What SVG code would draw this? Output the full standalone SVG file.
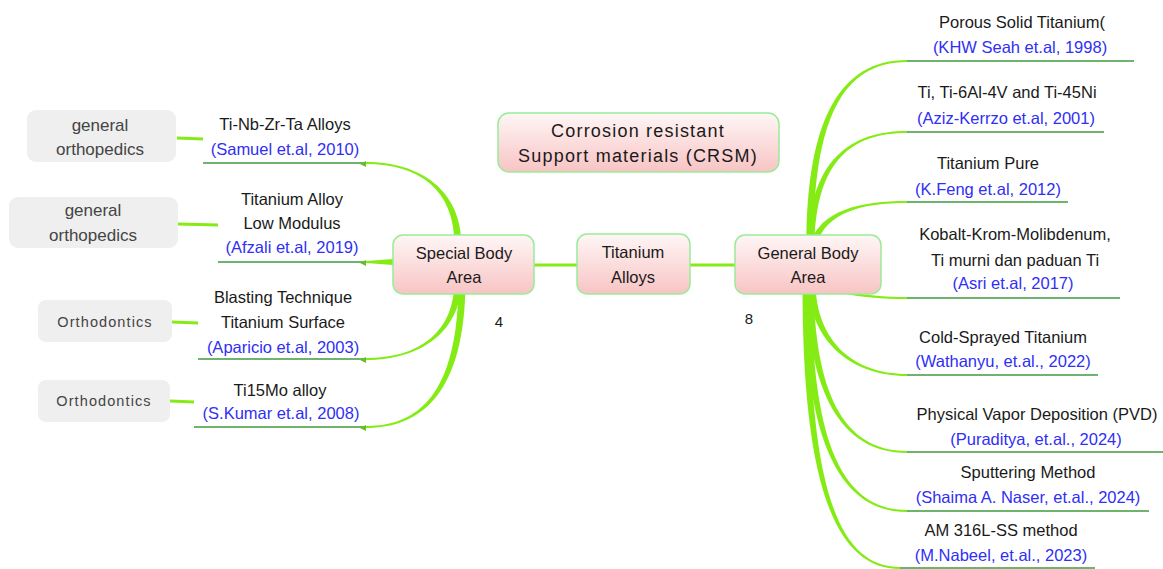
<svg xmlns="http://www.w3.org/2000/svg" width="1163" height="569" viewBox="0 0 1163 569">
<defs>
<linearGradient id="pk" x1="0" y1="0" x2="0" y2="1">
<stop offset="0" stop-color="#fff6f6"/>
<stop offset="1" stop-color="#f8c4c4"/>
</linearGradient>
</defs>
<style>
text{font-family:"Liberation Sans",Arial,sans-serif;font-size:16.5px;fill:#1a1a1a;text-anchor:middle}
.b{fill:#2f2ff5}
.g{fill:#444;font-size:17px}
.sm{font-size:14.5px;letter-spacing:1.1px}
.node{fill:url(#pk);stroke:#98ec98;stroke-width:1.5}
.gray{fill:#efefef}
.br{fill:#84ec14}
.ul{stroke:#3f9a3f;stroke-width:1.5;fill:none}
.gl{stroke:#84ec14;stroke-width:3;fill:none}
.crsm{font-size:18px;letter-spacing:1.2px}
.num{font-size:15px}
</style>
<g id="connectors">
<path class="br" d="M461.5,245 C461.5,190 420,162 366,162 L366,164 C420,164 454.5,190 454.5,245 Z"/>
<path class="br" d="M400,258.5 L366,261 L366,263 L400,265.5 Z"/>
<path class="br" d="M461.5,280 C461.5,332 420,360 366,360 L366,358 C420,358 454.5,332 454.5,280 Z"/>
<path class="br" d="M465.5,280 C465.5,395 420,428 366,428 L366,426 C418,426 458.5,395 458.5,280 Z"/>
<line class="gl" x1="534" y1="265" x2="577" y2="265"/>
<line class="gl" x1="690" y1="265" x2="735" y2="265"/>
<path class="br" d="M806.5,245 C806.5,120 840,60 907,60 L907,62 C842,62 813.5,120 813.5,245 Z"/>
<path class="br" d="M807.5,245 C810,160 850,131 907,131 L907,133 C852,133 816,160 814.5,245 Z"/>
<path class="br" d="M809.5,245 C820,210 860,201 907,201 L907,203 C862,203 826,212 816.5,245 Z"/>
<path class="br" d="M804.5,270 C812,292 860,299 907,299 L907,297 C862,297 822,290 811.5,270 Z"/>
<path class="br" d="M808.5,285 C810,340 850,376 907,376 L907,374 C852,374 817,340 815.5,285 Z"/>
<path class="br" d="M806.5,285 C808,390 840,453 907,453 L907,451 C842,451 815,390 813.5,285 Z"/>
<path class="br" d="M804.5,285 C804.5,430 835,512 907,512 L907,510 C837,510 811.5,430 811.5,285 Z"/>
<path class="br" d="M802.5,285 C802.5,470 830,569 900,569 L900,567 C832,567 809.5,470 809.5,285 Z"/>
<line class="ul" x1="203" y1="163" x2="366" y2="163"/>
<line class="ul" x1="218" y1="262" x2="366" y2="262"/>
<line class="ul" x1="198" y1="359" x2="366" y2="359"/>
<line class="ul" x1="194" y1="427" x2="366" y2="427"/>
<polygon points="360,164 366,161 366,167" fill="#5fc02a"/>
<polygon points="360,263 366,260 366,266" fill="#5fc02a"/>
<polygon points="360,360 366,357 366,363" fill="#5fc02a"/>
<polygon points="360,428 366,425 366,431" fill="#5fc02a"/>
<line class="gl" x1="177" y1="138" x2="203" y2="139"/>
<line class="gl" x1="178" y1="224" x2="218" y2="225"/>
<line class="gl" x1="172" y1="322" x2="198" y2="323"/>
<line class="gl" x1="170" y1="401" x2="194" y2="402"/>
<line class="ul" x1="907" y1="61" x2="1134" y2="61"/>
<line class="ul" x1="907" y1="132" x2="1104" y2="132"/>
<line class="ul" x1="907" y1="202" x2="1068" y2="202"/>
<line class="ul" x1="907" y1="298" x2="1120" y2="298"/>
<line class="ul" x1="907" y1="375" x2="1098" y2="375"/>
<line class="ul" x1="907" y1="452" x2="1163" y2="452"/>
<line class="ul" x1="907" y1="511" x2="1149" y2="511"/>
<line class="ul" x1="900" y1="568" x2="1095" y2="568"/>
</g>
<g id="n-crsm">
<rect class="node" x="498" y="113" width="281" height="59" rx="11"/>
<text class="crsm" x="638" y="136.5">Corrosion resistant</text>
<text class="crsm" x="638" y="161.5">Support materials (CRSM)</text>
</g>
<g id="n-special">
<rect class="node" x="393" y="235" width="141" height="59" rx="10"/>
<text x="464" y="259">Special Body</text>
<text x="464" y="283">Area</text>
</g>
<g id="n-titanium">
<rect class="node" x="577" y="234" width="113" height="60" rx="10"/>
<text x="633" y="258">Titanium</text>
<text x="633" y="283">Alloys</text>
</g>
<g id="n-general">
<rect class="node" x="735" y="235" width="146" height="59" rx="10"/>
<text x="808" y="259">General Body</text>
<text x="808" y="283">Area</text>
</g>
<g id="n-count4"><text class="num" x="499" y="327">4</text></g>
<g id="n-count8"><text class="num" x="749" y="324">8</text></g>
<g id="g-box1">
<rect class="gray" x="27" y="110" width="149" height="52" rx="9"/>
<text class="g" x="100" y="131">general</text>
<text class="g" x="100" y="155">orthopedics</text>
</g>
<g id="g-box2">
<rect class="gray" x="9" y="197" width="169" height="51" rx="9"/>
<text class="g" x="93" y="216">general</text>
<text class="g" x="93" y="241">orthopedics</text>
</g>
<g id="g-box3">
<rect class="gray" x="38" y="300" width="134" height="42" rx="8"/>
<text class="g sm" x="105" y="327">Orthodontics</text>
</g>
<g id="g-box4">
<rect class="gray" x="38" y="380" width="132" height="42" rx="8"/>
<text class="g sm" x="104" y="406">Orthodontics</text>
</g>
<g id="l1">
<text x="285" y="130">Ti-Nb-Zr-Ta Alloys</text>
<text class="b" x="285" y="155">(Samuel et.al, 2010)</text>
</g>
<g id="l2">
<text x="292" y="205">Titanium Alloy</text>
<text x="292" y="229">Low Modulus</text>
<text class="b" x="292" y="253">(Afzali et.al, 2019)</text>
</g>
<g id="l3">
<text x="283" y="303">Blasting Technique</text>
<text x="283" y="328">Titanium Surface</text>
<text class="b" x="283" y="353">(Aparicio et.al, 2003)</text>
</g>
<g id="l4">
<text x="280" y="396">Ti15Mo alloy</text>
<text class="b" x="281" y="419">(S.Kumar et.al, 2008)</text>
</g>
<g id="r1">
<text x="1022" y="28">Porous Solid Titanium(</text>
<text class="b" x="1020" y="53">(KHW Seah et.al, 1998)</text>
</g>
<g id="r2">
<text x="1007" y="98">Ti, Ti-6Al-4V and Ti-45Ni</text>
<text class="b" x="1006" y="124">(Aziz-Kerrzo et.al, 2001)</text>
</g>
<g id="r3">
<text x="988" y="169">Titanium Pure</text>
<text class="b" x="988" y="195">(K.Feng et.al, 2012)</text>
</g>
<g id="r4">
<text x="1015" y="240">Kobalt-Krom-Molibdenum,</text>
<text x="1015" y="266">Ti murni dan paduan Ti</text>
<text class="b" x="1013" y="289">(Asri et.al, 2017)</text>
</g>
<g id="r5">
<text x="1003" y="343">Cold-Sprayed Titanium</text>
<text class="b" x="1003" y="367">(Wathanyu, et.al., 2022)</text>
</g>
<g id="r6">
<text x="1037" y="420">Physical Vapor Deposition (PVD)</text>
<text class="b" x="1036" y="445">(Puraditya, et.al., 2024)</text>
</g>
<g id="r7">
<text x="1028" y="478">Sputtering Method</text>
<text class="b" x="1028" y="503">(Shaima A. Naser, et.al., 2024)</text>
</g>
<g id="r8">
<text x="1001" y="536">AM 316L-SS method</text>
<text class="b" x="1001" y="561">(M.Nabeel, et.al., 2023)</text>
</g>
</svg>
